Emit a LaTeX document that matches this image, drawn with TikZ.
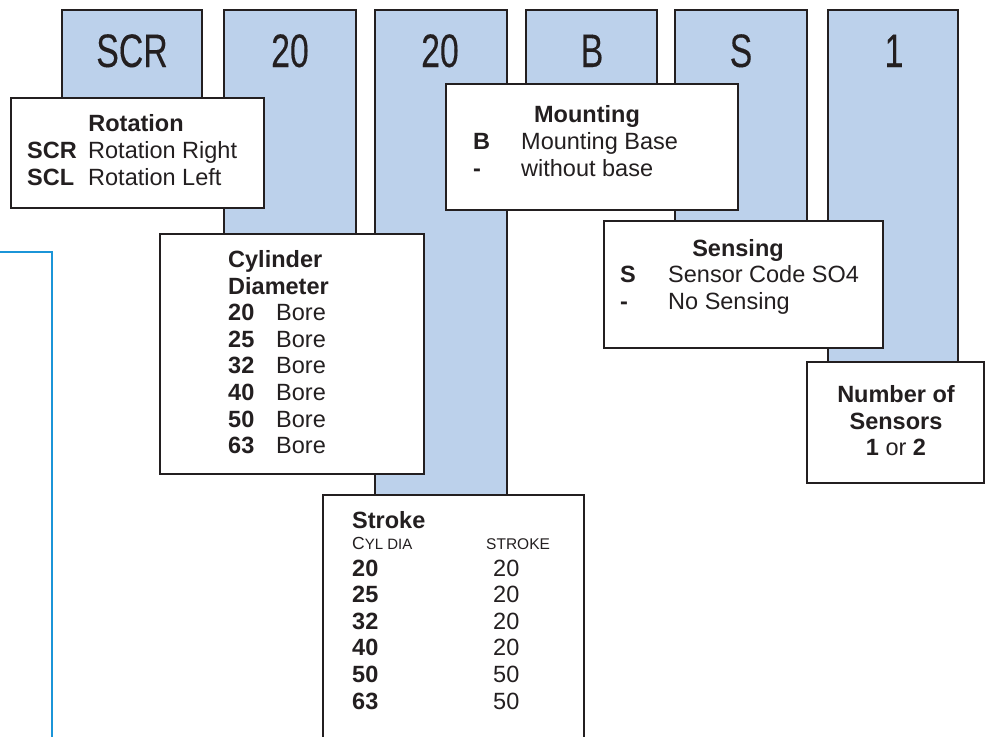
\documentclass[tikz,border=0pt]{standalone}
\usepackage{fontspec}
\setmainfont{Liberation Sans}
\newfontfamily\condfont[FakeStretch=0.72,FakeBold=0.2]{Liberation Sans}
\definecolor{colfill}{RGB}{188,209,235}
\definecolor{edge}{RGB}{35,31,32}
\definecolor{frameblue}{RGB}{27,149,216}
\begin{document}
\begin{tikzpicture}[x=1pt,y=-1pt,
  col/.style={fill=colfill,draw=edge,line width=2.2pt},
  infobox/.style={fill=white,draw=edge,line width=2.2pt},
  code/.style={font=\condfont\fontsize{47}{47}\selectfont,text=edge,inner sep=0pt,anchor=base},
  txt/.style={font=\fontsize{23.5}{26}\selectfont,text=edge,inner sep=0pt,anchor=base west},
  btxt/.style={txt,font=\fontsize{23.5}{26}\selectfont\bfseries},
  ctitle/.style={btxt,anchor=base}
]
\useasboundingbox (0,0) rectangle (990,736);
\clip (0,0) rectangle (990,736);

% blue frame fragment
\draw[frameblue,line width=2pt] (-5,252) -- (52,252) -- (52,745);

% code columns
\draw[col] (62,10) rectangle (202,110);
\draw[col] (224,10) rectangle (356,240);
\draw[col] (375,10) rectangle (507,500);
\draw[col] (526,10) rectangle (657,90);
\draw[col] (675,10) rectangle (807,230);
\draw[col] (828,10) rectangle (958,370);

\node[code] (k1) at (132,67) {SCR};
\node[code] (k2) at (290,67) {20};
\node[code] (k3) at (440,67) {20};
\node[code] (k4) at (592,67) {B};
\node[code] (k5) at (741,67) {S};
\node[code] (k6) at (894,67) {1};

% Rotation
\draw[infobox] (11,98) rectangle (264,208);
\node[ctitle] (rt) at (136,131) {Rotation};
\node[btxt] (r1a) at (27,158) {SCR};
\node[txt]  (r1b) at (88,158) {Rotation Right};
\node[btxt] (r2a) at (27,185) {SCL};
\node[txt]  (r2b) at (88,185) {Rotation Left};

% Mounting
\draw[infobox] (446,84) rectangle (738,210);
\node[ctitle] (mt) at (587,122) {Mounting};
\node[btxt] (m1a) at (473,149) {B};
\node[txt]  (m1b) at (521,149) {Mounting Base};
\node[btxt] (m2a) at (473,176) {-};
\node[txt]  (m2b) at (521,176) {without base};

% Cylinder diameter
\draw[infobox] (160,234) rectangle (424,474);
\node[btxt] (ct1) at (228,267) {Cylinder};
\node[btxt] (ct2) at (228,294) {Diameter};
\foreach \v/\y in {20/320,25/347,32/373,40/400,50/427,63/453}{
  \node[btxt] (cd\v) at (228,\y) {\v};
  \node[txt]  (cb\v) at (276,\y) {Bore};
}

% Sensing
\draw[infobox] (604,221) rectangle (883,348);
\node[ctitle] (st) at (738,256) {Sensing};
\node[btxt] (s1a) at (620,282) {S};
\node[txt]  (s1b) at (668,282) {Sensor Code SO4};
\node[btxt] (s2a) at (620,309) {-};
\node[txt]  (s2b) at (668,309) {No Sensing};

% Number of sensors
\draw[infobox] (807,362) rectangle (984,483);
\node[ctitle] (n1) at (896,402) {Number of};
\node[ctitle] (n2) at (896,429) {Sensors};
\node[txt,anchor=base] (n3) at (896,455) {\textbf{1} or \textbf{2}};

% Stroke
\draw[infobox] (323,495) rectangle (584,760);
\node[btxt] (sk) at (352,528) {Stroke};
\node[txt] (sh1) at (352,549) {\fontsize{17.5}{18}\selectfont C\fontsize{15}{16}\selectfont YL DIA};
\node[txt] (sh2) at (486,549) {\fontsize{15.5}{16}\selectfont STROKE};
\foreach \v/\s/\y in {20/20/576,25/20/602,32/20/629,40/20/655,50/50/682,63/50/709}{
  \node[btxt] (sd\v) at (352,\y) {\v};
  \node[txt]  (ss\v) at (493,\y) {\s};
}
\end{tikzpicture}
\end{document}
